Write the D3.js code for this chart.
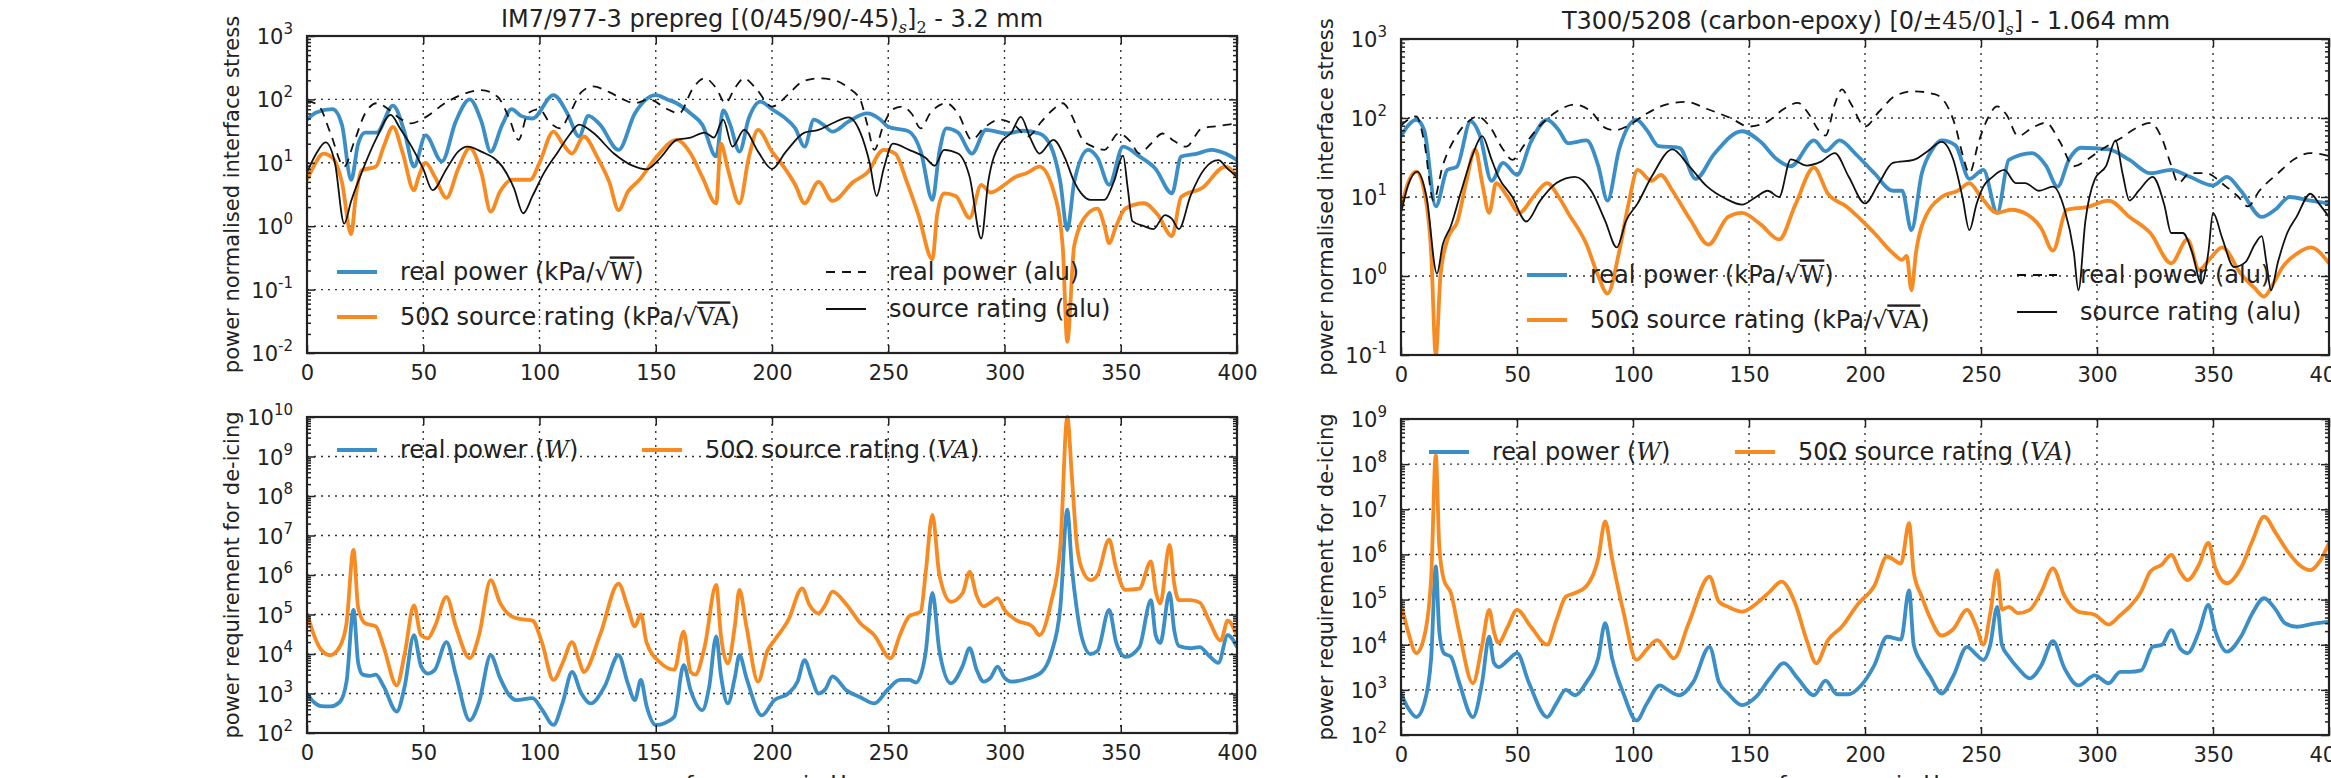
<!DOCTYPE html>
<html>
<head>
<meta charset="utf-8">
<script src="https://cdn.jsdelivr.net/npm/d3@7"></script>
<style>
  body { margin: 0; background: #fff; }
  text { font-family: "DejaVu Sans", sans-serif; fill: #222; }
</style>
</head>
<body>
<div id="container"></div>
<script>
/* CONSTANTS AND GLOBALS */
const width = 2331;
const height = 778;
const blue = "#3b8ec6";
const orange = "#f88a22";

const xTicks = [0, 50, 100, 150, 200, 250, 300, 350, 400];

/* DATA - [frequency (Hz), value] */
// left, top: IM7/977-3
const ltBlue = [[0,48],[4,62],[11,70],[15,40],[19,5.4],[22,20],[25,30],[30,30],[37,80],[42,30],[46,8.7],[51,27],[58,10.5],[64,45],[70,100],[75,45],[79,15],[84,40],[88,70],[92,55],[97,50],[106,117],[112,60],[117,26],[121,55],[126,40],[134,16],[141,60],[150,117],[155,100],[159,87],[165,60],[170,40],[176,12.6],[179,67],[182,40],[186,15],[190,50],[195,92],[200,70],[205,53],[210,35],[214,18],[218,48],[222,40],[226,31],[233,45],[241,60],[246,50],[250,37],[259,31],[264,15],[269,2.6],[272,15],[275,35],[280,30],[286,14],[292,33],[301,29],[308,32],[315,29],[320,18],[324,5],[327,0.87],[330,5],[336,16],[340,12],[345,4.5],[351,18],[358,12.6],[365,8],[372,3.3],[376,12.6],[383,14],[389,16],[395,14],[400,11]];
const ltOrange = [[0,5.4],[3,9],[7,14],[11,12],[15,5],[19,0.75],[21,3],[23.5,7.6],[29.6,8.7],[33,18],[37,37],[41,15],[46,3.7],[48,6],[51,10],[55,6],[60,2.8],[65,8],[70,17],[75,7],[79,1.7],[83,3.5],[88,5.4],[96,5.4],[100,10],[106,31],[110,20],[114,14],[119,26],[125,12],[130,5],[134,1.8],[138,3.5],[143,5.4],[150,12],[159,23],[165,14],[170,6],[176,2.3],[178,20],[181,8],[186,2.3],[190,12],[194,33],[200,15],[205,8.7],[210,4.5],[214,2.3],[220,5],[226,2.5],[235,5],[241,7],[248,16],[253,14],[258,5],[263,1.5],[269,0.3],[271,1.5],[274,3.3],[279,3],[285,1.35],[290,4.5],[294,3.4],[300,4.5],[304,5.8],[310,7],[315,8.7],[321,3.7],[325,0.5],[327,0.015],[330,0.5],[336,1.6],[340,1.9],[343,1],[345,0.54],[348,1],[352,1.9],[360,2.3],[366,1.5],[372,0.7],[376,2.9],[385,4],[395,8.7],[400,6]];
const ltAluReal = [[0,95],[5,80],[10,30],[16,8.7],[20,20],[25,60],[30,87],[35,70],[40,50],[45,42],[50,50],[60,90],[67,120],[75,140],[82,110],[87,50],[91,23],[95,60],[100,70],[104,45],[109,35],[113,60],[118,130],[123,160],[130,130],[136,100],[141,87],[147,100],[155,70],[160,60],[166,150],[171,215],[176,150],[180,87],[184,150],[188,215],[193,150],[200,77],[207,120],[213,190],[220,215],[227,200],[233,150],[238,98],[241,40],[244,16],[248,40],[252,70],[256,77],[260,60],[264,35],[268,60],[275,87],[280,60],[286,23],[291,35],[298,48],[304,40],[310,26],[316,45],[321,70],[325,87],[329,55],[333,25],[338,18],[343,16],[349,29],[354,22],[358,14],[363,20],[368,29],[373,22],[378,18],[385,35],[392,38],[400,42]];
const ltAluSource = [[0,7],[4,14],[8,21],[12,10],[16,1.1],[19,2.5],[23.5,7],[30,25],[36,57],[40,35],[45,18],[50,8],[54,3.7],[60,8],[65,15],[69,18],[75,15],[84,8.7],[89,4],[93,1.6],[97,3],[102,7],[108,15],[113,28],[117,40],[123,30],[132,14],[140,9],[146,7.9],[152,12],[159,23],[165,25],[171,30],[175,25],[179,48],[183,18],[188,33],[194,15],[200,8],[206,15],[214,30],[220,33],[226,42],[233,52],[238,30],[242,10],[245,3],[248,8],[252,20],[259,16],[266,12],[270,9],[274,16],[280,14],[285,6],[290,0.64],[293,5],[298,20],[303,30],[307,53],[311,25],[315,14],[321,23],[326,12],[330,5],[333,3.3],[337,2.6],[343,2.6],[347,5],[351,13],[353,4],[355,1.2],[360,1.0],[364,0.9],[369,1.5],[372,1.3],[375,0.9],[380,3],[386,8],[392,11],[396,8],[400,6]];

// left, bottom
const lbBlue = [[0,1000],[3,600],[6,480],[10,470],[14,600],[17,2000],[20,1.3e5],[22,6000],[24,3000],[27,2800],[29.6,3000],[33,1500],[38.6,350],[42,1500],[46,3e4],[49,5000],[52,3200],[55,4000],[60,2e4],[64,3000],[70,210],[74,600],[79,9300],[83,2500],[87,900],[90,680],[97,760],[101,400],[106,160],[110,600],[114,3500],[118,1000],[122,560],[128,1500],[134,9300],[138,1800],[141,680],[143.6,2200],[146,500],[150,160],[154,180],[158,260],[162,5200],[165,1200],[170,380],[173,1500],[176,2.8e4],[178,3000],[181,560],[184,2500],[186,9300],[189,2500],[195.6,280],[201,680],[207,1000],[211,2000],[214,7000],[217,2500],[220,1000],[223,1300],[226,2700],[232,1200],[238,800],[244,560],[250,1300],[255,2200],[259,2200],[262,1900],[266,1e4],[269,3.5e5],[272,1.2e4],[277,1800],[282,5000],[285,1.4e4],[288,4000],[291,2000],[294,2500],[297,4800],[300,2500],[303,2000],[310,2400],[316,3500],[320,1e4],[324,1.5e5],[327,4.5e7],[329,1.5e6],[331,1.5e5],[333,3e4],[337,1e4],[340,1.2e4],[345,1.3e5],[348,2e4],[352,8500],[358,1.5e4],[363,2.3e5],[365,3e4],[367,1.9e4],[371,3.5e5],[373,4e4],[375,1.6e4],[380,1.4e4],[384,1.5e4],[388,9000],[392,6000],[396,3e4],[400,1.5e4]];
const lbOrange = [[0,1.07e5],[3,3e4],[6,1.3e4],[10,9300],[14,1.5e4],[17,6e4],[20,4.3e6],[22,1.5e5],[25,6e4],[29.6,5e4],[33,1.5e4],[38.6,1600],[42,1e4],[46,1.7e5],[49,3e4],[52,2.5e4],[55,5e4],[60,2.8e5],[64,5e4],[70,7800],[74,3e4],[79,7.4e5],[83,2e5],[88,9e4],[93,7.5e4],[97,7e4],[101,2e4],[106,2200],[110,6000],[114,2e4],[117,7000],[119,3500],[126,3e4],[134,6e5],[138,1.5e5],[141,5e4],[143.6,1e5],[146,2e4],[152,6000],[158,4000],[162,3.7e4],[165,3500],[167,3000],[171,1.5e4],[176,5.6e5],[178,3e4],[181,5800],[184,5e4],[186,4.2e5],[189,5e4],[194,2000],[198,1.2e4],[201,2.2e4],[207,7.2e4],[213,4.6e5],[216,1.8e5],[220,1.07e5],[223,1.8e5],[226,3.8e5],[232,1.8e5],[238,6e4],[244,3e4],[251,7800],[255,3e4],[259,9e4],[264,1.2e5],[266,1e6],[269,3.3e7],[272,1e6],[277,2.1e5],[282,3.5e5],[285,1.2e6],[288,3e5],[291,1.6e5],[294,2e5],[297,2.6e5],[300,1.3e5],[305,7.2e4],[312,5e4],[315,3e4],[320,2e5],[324,5e6],[327,1e10],[329,3e8],[331,7e6],[333,1.6e6],[337,7.4e5],[340,1e6],[345,7.8e6],[348,1.5e6],[352,4.2e5],[358,4.5e5],[363,2.2e6],[365,4e5],[367,1.9e5],[371,5.8e6],[373,6e5],[375,2.3e5],[380,2.3e5],[384,2e5],[388,7e4],[393,2.2e4],[396,7e4],[400,2.8e4]];

// right, top: T300/5208
const rtBlue = [[0,59],[3,80],[6.6,95],[10,70],[15,7.6],[20,22],[24,24],[30,91],[34,60],[39,16],[44,27],[50,19],[56,50],[63,95],[68,70],[72,48],[80,52],[85,25],[89,9],[94,40],[101.5,95],[106,70],[111,44],[120,42],[127,17],[135,35],[147,68],[155,50],[162,30],[168,24.5],[178,52],[183,38],[189,52],[196,35],[204,20],[212,12],[216,12],[220,3.8],[224.5,20],[229,40],[233,52],[239,45],[245,17],[251,22],[257,6.3],[262,29.5],[272,36],[278,25],[283,13.5],[288,30],[293,42],[305,40],[314,29.5],[323,20],[332,22],[340,18],[350,14],[356,18],[362,12],[371,5.6],[377,7],[383,10],[392,9],[400,8.3]];
const rtOrange = [[0,7],[3,15],[6.6,21],[10,12],[13,2],[15,0.1],[17,1],[20,2.9],[24.5,5.1],[28,15],[32,40],[35,15],[38,6.3],[41,15],[46,10],[51,6.3],[57,10],[63,15],[68,10],[72,6.3],[80,2.5],[85,1],[89,0.6],[94,2],[98,8],[102,22],[108,16],[112,19],[117,12],[125,5],[132.5,2.5],[141,5.6],[147,6.3],[155,4.5],[163,2.9],[170,8],[178,23.5],[184,11],[192,7.6],[204,3.5],[212,1.95],[216,1.6],[218,1.8],[220,0.66],[222,2],[224.5,4.3],[233,10],[240,12],[245,15],[250,10],[257,6.3],[263,6.9],[270,6],[276,4],[281,2.1],[287,6.9],[296,7.5],[305,9],[314,5.6],[323,3.5],[332,1.45],[339,2.9],[344,1.2],[349,1.7],[354,2.3],[362,1.07],[368,0.7],[372,0.55],[376,0.8],[380,1.3],[386,1.9],[392,2.3],[400,1.45]];
const rtAluReal = [[0,80],[3,95],[6.6,105],[10,50],[14,9],[18,25],[24,60],[30,95],[33,105],[38,80],[44,40],[48,29.5],[53,45],[60,80],[67,120],[75,148],[82,120],[88,75],[92,70],[98,80],[105,110],[115,150],[123,160],[132,130],[142,100],[150,78],[158,90],[165,130],[171,155],[176,110],[180,70],[183,60],[187,150],[190,230],[194,150],[200,78],[206,120],[213,190],[221,218],[230,200],[235,150],[239,78],[242,35],[245,20],[249,50],[253,100],[257,140],[261,110],[266,59],[272,75],[278,87],[284,50],[290,24.5],[296,30],[302,40],[310,55],[317,75],[323,87],[328,55],[332,25],[335,15],[340,20],[347,20],[355,14],[361,10],[365,7.6],[370,12],[378,20],[385,30],[392,36],[400,33]];
const rtAluSource = [[0,6.3],[3,14],[7,21],[11,10],[15.5,1.07],[18,2.5],[21.5,4.3],[26,12],[31,35],[35,59],[39,30],[42,18],[48,10],[54,4.9],[60,9],[67,15],[75,18],[82,12],[88,5],[93,2.3],[97,5],[102,8.3],[108,18],[117,40],[124,25],[132,13.5],[140,9.5],[147,8],[153,10],[158,12],[163,10],[168,30],[175,25],[181,28],[187,36],[193,18],[200,8.3],[206,15],[212,27],[221,29.5],[227,38],[233,50],[238,30],[242,10],[245,3.8],[248,8],[251,13.5],[255,18],[260,22],[265,15],[269,15],[275,12],[281,13.5],[286,7],[290,2],[292,0.66],[295,5],[299,16.6],[304,25],[308,52],[311,20],[314,9],[318,12],[324,18],[329,8],[332,3.5],[337,3.5],[341,2],[345,0.8],[348,2],[350,6.3],[354,3],[359,1.3],[364,1.5],[368,2.5],[371,3.2],[373,1.5],[375,0.66],[378,1.5],[382,3.5],[386,5.6],[392,11],[396,8],[400,5.6]];

// right, bottom
const rbBlue = [[0,830],[3,400],[6.6,250],[10,500],[13,5000],[15,5.4e5],[16.5,2e4],[18.5,6500],[21.5,5400],[25,1500],[31,250],[35,1500],[38,1.5e4],[40,4000],[42,3200],[46,4500],[50,6500],[55,1500],[63,250],[67,500],[71,1000],[75,760],[80,1500],[85,5000],[88,3e4],[91,5000],[96,800],[101.5,210],[106,500],[111.6,1260],[115,1000],[120,760],[126,1500],[133,9000],[137,1500],[141,830],[147,460],[153,700],[159,1800],[165,3900],[171,1800],[178,760],[183,1600],[188,800],[193,800],[198,1200],[204,3500],[209.5,1.5e4],[215.5,1.3e4],[219,1.6e5],[221,1e4],[224.5,3900],[228,2000],[233,830],[238,2000],[244,9000],[248,6000],[251,4600],[254,1e4],[257,6.9e4],[259,1e4],[262,5400],[266,3000],[271,1800],[276,3500],[281,1.2e4],[286,3000],[292,1260],[299,2100],[305,1400],[310,2500],[314,2500],[319,2700],[324,9000],[328,1e4],[332,2.1e4],[336,8000],[339,6500],[344,2e4],[348,7.6e4],[351,2e4],[356,7000],[362,1.5e4],[367,5e4],[372,1.07e5],[377,6e4],[381,3e4],[386,2.5e4],[393,2.9e4],[400,3.2e4]];
const rbOrange = [[0,8.3e4],[3,2e4],[6.6,6500],[10,1.5e4],[13,3e5],[15,1.6e8],[16.5,1.5e6],[18.5,2.7e5],[21.5,1.4e5],[25,2e4],[31,1400],[35,1e4],[38,5.9e4],[40,2e4],[42,1.1e4],[46,2.5e4],[50,5.9e4],[56,2.5e4],[63,1e4],[67,3.5e4],[71,1.15e5],[75,1.4e5],[80,2e5],[85,8e5],[88,5.4e6],[91,8e5],[96,5e4],[101.5,4600],[106,8000],[110.5,1.26e4],[114,8000],[117.6,5000],[124,3e4],[133,3.2e5],[137,9e4],[141,6.9e4],[147,5.4e4],[153,8e4],[159,1.5e5],[164,2.5e5],[170,8e4],[175,1.2e4],[179,3900],[184,1.26e4],[190,2.5e4],[197,8e4],[204,2e5],[209.5,9e5],[215.5,6.3e5],[219,4.9e6],[221,4e5],[224.5,1.15e5],[228,4e4],[233,1.6e4],[238,2.2e4],[244,5.9e4],[248,2.5e4],[251,1e4],[254,5e4],[257,4.5e5],[259,6e4],[262,6.9e4],[266,5e4],[271,5.9e4],[276,1.5e5],[281,4.9e5],[286,1.2e5],[292,5.4e4],[299,4.6e4],[305,2.8e4],[310,4.5e4],[314,6.9e4],[319,1.5e5],[323,4.2e5],[328,6e5],[332,9.8e5],[336,4e5],[339,2.7e5],[344,6e5],[348,1.8e6],[351,5e5],[356,2.3e5],[362,5e5],[367,2e6],[372,6.9e6],[377,3e6],[382,1.2e6],[387,6e5],[392,4.5e5],[396,7e5],[400,1.8e6]];

/* SVG */
const svg = d3.select("#container")
  .append("svg")
  .attr("width", width)
  .attr("height", height);

let clipId = 0;

// one log-scale panel
function drawPanel(p) {
  const x = d3.scaleLinear().domain([0, 400]).range([p.x0, p.x1]);
  const y = d3.scaleLog().domain(p.yDomain).range([p.y1, p.y0]);
  const g = svg.append("g");

  const lo = Math.round(Math.log10(p.yDomain[0]));
  const hi = Math.round(Math.log10(p.yDomain[1]));
  const decades = d3.range(lo, hi + 1).map(e => Math.pow(10, e));
  const minors = [];
  decades.slice(0, -1).forEach(d => { for (let k = 2; k < 10; k++) minors.push(d * k); });

  // grid
  g.selectAll(".gx").data(xTicks.slice(1, -1)).join("line")
    .attr("x1", d => x(d)).attr("x2", d => x(d))
    .attr("y1", p.y0).attr("y2", p.y1)
    .attr("stroke", "#333").attr("stroke-width", 1.4).attr("stroke-dasharray", "2,5");
  g.selectAll(".gy").data(decades.slice(1, -1)).join("line")
    .attr("x1", p.x0).attr("x2", p.x1)
    .attr("y1", d => y(d)).attr("y2", d => y(d))
    .attr("stroke", "#333").attr("stroke-width", 1.4).attr("stroke-dasharray", "2,5");

  // series
  const id = "clip" + (clipId++);
  svg.append("clipPath").attr("id", id).append("rect")
    .attr("x", p.x0).attr("y", p.y0 - 2).attr("width", p.x1 - p.x0).attr("height", p.y1 - p.y0 + 2);
  const line = d3.line().x(d => x(d[0])).y(d => y(d[1])).curve(d3.curveMonotoneX);
  const lines = g.append("g").attr("clip-path", `url(#${id})`);
  p.series.forEach(s => {
    lines.append("path").datum(s.data)
      .attr("d", line)
      .attr("fill", "none")
      .attr("stroke", s.color)
      .attr("stroke-width", s.width)
      .attr("stroke-dasharray", s.dash || null)
      .attr("stroke-linejoin", "round");
  });

  // axes (ticks point inwards)
  const style = a => a.attr("font-size", 21).attr("font-family", "DejaVu Sans")
    .call(a => a.select(".domain").remove())
    .call(a => a.selectAll("line").attr("stroke", "#222").attr("stroke-width", 1.5));
  g.append("g").attr("transform", `translate(0,${p.y1})`)
    .call(d3.axisBottom(x).tickValues(xTicks).tickSize(-8).tickPadding(12))
    .call(style)
    .call(a => a.selectAll("text").attr("fill", "#222"));
  g.append("g").attr("transform", `translate(0,${p.y0})`)
    .call(d3.axisTop(x).tickValues(xTicks).tickSize(-8).tickFormat(""))
    .call(style);
  g.append("g").attr("transform", `translate(${p.x0},0)`)
    .call(d3.axisLeft(y).tickValues(decades).tickSize(-8).tickFormat(""))
    .call(style);
  g.append("g").attr("transform", `translate(${p.x0},0)`)
    .call(d3.axisLeft(y).tickValues(minors).tickSize(-4).tickFormat(""))
    .call(style);
  g.append("g").attr("transform", `translate(${p.x1},0)`)
    .call(d3.axisRight(y).tickValues(decades).tickSize(-8).tickFormat(""))
    .call(style);
  g.append("g").attr("transform", `translate(${p.x1},0)`)
    .call(d3.axisRight(y).tickValues(minors).tickSize(-4).tickFormat(""))
    .call(style);

  // y tick labels 10^n
  const lab = g.selectAll(".ylab").data(decades).join("text")
    .attr("x", p.x0 - 14)
    .attr("y", d => y(d) + 8)
    .attr("text-anchor", "end")
    .attr("font-size", 21);
  lab.append("tspan").text("10");
  lab.append("tspan").attr("dy", -10).attr("font-size", 15)
    .text(d => String(Math.round(Math.log10(d))));

  // frame
  g.append("rect")
    .attr("x", p.x0).attr("y", p.y0)
    .attr("width", p.x1 - p.x0).attr("height", p.y1 - p.y0)
    .attr("fill", "none").attr("stroke", "#222").attr("stroke-width", 2.2);

  // y label
  g.append("text")
    .attr("transform", `translate(${p.x0 - 75},${(p.y0 + p.y1) / 2}) rotate(-90)`)
    .attr("text-anchor", "middle")
    .attr("dy", "0.35em")
    .attr("font-size", 21)
    .text(p.ylabel);

  // legend
  p.legend.forEach(l => {
    g.append("line")
      .attr("x1", l.x).attr("x2", l.x + 40)
      .attr("y1", l.y).attr("y2", l.y)
      .attr("stroke", l.color).attr("stroke-width", l.width)
      .attr("stroke-dasharray", l.dash || null);
    const t = g.append("text")
      .attr("x", l.x + 63).attr("y", l.y).attr("dy", "0.35em")
      .attr("font-size", 24);
    l.parts.forEach(pt => {
      const s = t.append("tspan").text(pt.t);
      if (pt.serif) s.attr("font-family", "DejaVu Serif");
      if (pt.italic) s.attr("font-style", "italic");
      if (pt.over) s.style("text-decoration", "overline");
    });
  });
  return { x, y };
}

const sqrtW = [{ t: "real power (kPa/" }, { t: "√", serif: true }, { t: "W", serif: true, over: true }, { t: ")" }];
const sqrtVA = [{ t: "50Ω source rating (kPa/" }, { t: "√", serif: true }, { t: "VA", serif: true, over: true }, { t: ")" }];

drawPanel({
  x0: 307, x1: 1237, y0: 36, y1: 353, yDomain: [1e-2, 1e3],
  ylabel: "power normalised interface stress",
  series: [
    { data: ltBlue, color: blue, width: 3.8 },
    { data: ltOrange, color: orange, width: 3.8 },
    { data: ltAluReal, color: "#111", width: 1.8, dash: "9,7" },
    { data: ltAluSource, color: "#111", width: 1.8 }
  ],
  legend: [
    { x: 337, y: 272, color: blue, width: 3.8, parts: sqrtW },
    { x: 337, y: 317, color: orange, width: 3.8, parts: sqrtVA },
    { x: 826, y: 272, color: "#111", width: 1.8, dash: "9,7", parts: [{ t: "real power (alu)" }] },
    { x: 826, y: 309, color: "#111", width: 1.8, parts: [{ t: "source rating (alu)" }] }
  ]
});

drawPanel({
  x0: 307, x1: 1237, y0: 417, y1: 733, yDomain: [1e2, 1e10],
  ylabel: "power requirement for de-icing",
  series: [
    { data: lbBlue, color: blue, width: 3.8 },
    { data: lbOrange, color: orange, width: 3.8 }
  ],
  legend: [
    { x: 337, y: 450, color: blue, width: 3.8, parts: [{ t: "real power (" }, { t: "W", serif: true, italic: true }, { t: ")" }] },
    { x: 642, y: 450, color: orange, width: 3.8, parts: [{ t: "50Ω source rating (" }, { t: "VA", serif: true, italic: true }, { t: ")" }] }
  ]
});

drawPanel({
  x0: 1401, x1: 2329, y0: 39, y1: 355, yDomain: [1e-1, 1e3],
  ylabel: "power normalised interface stress",
  series: [
    { data: rtBlue, color: blue, width: 3.8 },
    { data: rtOrange, color: orange, width: 3.8 },
    { data: rtAluReal, color: "#111", width: 1.8, dash: "9,7" },
    { data: rtAluSource, color: "#111", width: 1.8 }
  ],
  legend: [
    { x: 1527, y: 275, color: blue, width: 3.8, parts: sqrtW },
    { x: 1527, y: 320, color: orange, width: 3.8, parts: sqrtVA },
    { x: 2017, y: 275, color: "#111", width: 1.8, dash: "9,7", parts: [{ t: "real power (alu)" }] },
    { x: 2017, y: 312, color: "#111", width: 1.8, parts: [{ t: "source rating (alu)" }] }
  ]
});

drawPanel({
  x0: 1401, x1: 2329, y0: 419, y1: 735, yDomain: [1e2, 1e9],
  ylabel: "power requirement for de-icing",
  series: [
    { data: rbBlue, color: blue, width: 3.8 },
    { data: rbOrange, color: orange, width: 3.8 }
  ],
  legend: [
    { x: 1429, y: 452, color: blue, width: 3.8, parts: [{ t: "real power (" }, { t: "W", serif: true, italic: true }, { t: ")" }] },
    { x: 1735, y: 452, color: orange, width: 3.8, parts: [{ t: "50Ω source rating (" }, { t: "VA", serif: true, italic: true }, { t: ")" }] }
  ]
});

/* TITLES */
const t1 = svg.append("text").attr("x", 772).attr("y", 27)
  .attr("text-anchor", "middle").attr("font-size", 24);
t1.append("tspan").text("IM7/977-3 prepreg [(0/45/90/-45)");
t1.append("tspan").attr("dy", 6).attr("font-size", 16).attr("font-family", "DejaVu Serif").attr("font-style", "italic").text("s");
t1.append("tspan").attr("dy", -6).text("]");
t1.append("tspan").attr("dy", 6).attr("font-size", 16).attr("font-family", "DejaVu Serif").text("2");
t1.append("tspan").attr("dy", -6).text(" - 3.2 mm");

const t2 = svg.append("text").attr("x", 1866).attr("y", 29)
  .attr("text-anchor", "middle").attr("font-size", 24);
t2.append("tspan").text("T300/5208 (carbon-epoxy) [0/");
t2.append("tspan").attr("font-family", "DejaVu Serif").text("±45/0");
t2.append("tspan").text("]");
t2.append("tspan").attr("dy", 6).attr("font-size", 16).attr("font-family", "DejaVu Serif").attr("font-style", "italic").text("s");
t2.append("tspan").attr("dy", -6).text("] - 1.064 mm");

/* X LABELS (cut by the bottom edge) */
[772, 1865].forEach(cx => {
  svg.append("text").attr("x", cx).attr("y", 791)
    .attr("text-anchor", "middle").attr("font-size", 22)
    .text("frequency in Hz");
});
</script>
</body>
</html>
